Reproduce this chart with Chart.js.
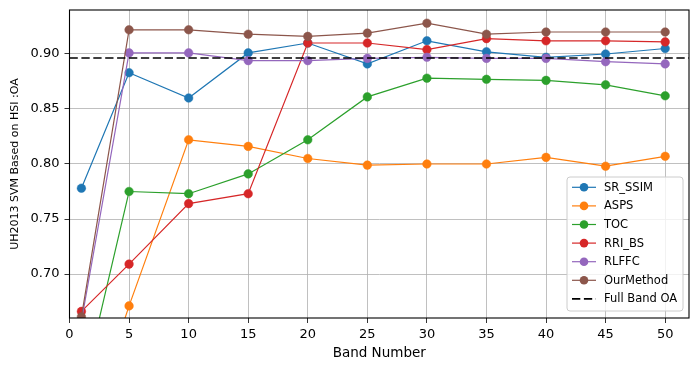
<!DOCTYPE html>
<html>
<head>
<meta charset="utf-8">
<script src="https://cdn.jsdelivr.net/npm/chart.js@4/dist/chart.umd.min.js"></script>
<style>
  html, body { margin: 0; padding: 0; background: #fff; }
  #wrap { width: 699px; height: 371px; position: relative; }
</style>
</head>
<body>
<div id="wrap"><canvas id="c" width="699" height="371"></canvas></div>
<script>
// ---- data ----
const bands = [1, 5, 10, 15, 20, 25, 30, 35, 40, 45, 50];
const seriesNames = ['SR_SSIM', 'ASPS', 'TOC', 'RRI_BS', 'RLFFC', 'OurMethod'];
const SR_SSIM   = [0.778, 0.883, 0.860, 0.901, 0.910, 0.891, 0.912, 0.902, 0.897, 0.900, 0.905];
const ASPS      = [0.540, 0.671, 0.822, 0.816, 0.805, 0.799, 0.800, 0.800, 0.806, 0.798, 0.807];
const TOC       = [0.590, 0.775, 0.773, 0.791, 0.822, 0.861, 0.878, 0.877, 0.876, 0.872, 0.862];
const RRI_BS    = [0.666, 0.709, 0.764, 0.773, 0.910, 0.910, 0.904, 0.914, 0.912, 0.912, 0.911];
const RLFFC     = [0.657, 0.901, 0.901, 0.894, 0.894, 0.896, 0.897, 0.896, 0.896, 0.893, 0.891];
const OurMethod = [0.661, 0.922, 0.922, 0.918, 0.916, 0.919, 0.928, 0.918, 0.920, 0.920, 0.920];
const fullBandOA = 0.8964;
const fullBandLabel = 'Full Band OA';
const xTicks = [0, 5, 10, 15, 20, 25, 30, 35, 40, 45, 50];
const yTicks = [0.70, 0.75, 0.80, 0.85, 0.90];
const xLimits = [0, 52];
const yLimits = [0.66, 0.94];

// ---- styles ----
const colors = ['#1f77b4', '#ff7f0e', '#2ca02c', '#d62728', '#9467bd', '#8c564b'];
const FONT = "'DejaVu Sans', sans-serif";
Chart.defaults.color = '#000';
Chart.defaults.font.family = FONT;

const allSeries = [SR_SSIM, ASPS, TOC, RRI_BS, RLFFC, OurMethod];
const N = allSeries.length + 1;
const datasets = allSeries.map((vals, i) => ({
  label: seriesNames[i],
  data: bands.map((b, j) => ({ x: b, y: vals[j] })),
  borderColor: colors[i],
  backgroundColor: colors[i],
  pointBackgroundColor: colors[i],
  pointBorderColor: colors[i],
  borderWidth: 1.2,
  pointRadius: 4.3,
  pointBorderWidth: 0.5,
  pointHoverRadius: 4.3,
  tension: 0,
  order: N - i,
  clip: 0
}));
datasets.push({
  label: fullBandLabel,
  data: xLimits.map(x => ({ x: x, y: fullBandOA })),
  borderColor: '#000',
  backgroundColor: '#000',
  borderWidth: 1.6,
  borderDash: [8.3, 3.6],
  pointRadius: 0,
  tension: 0,
  order: 0,
  clip: 0
});

const framePlugin = {
  id: 'frame',
  afterDatasetsDraw(chart) {
    const { ctx, chartArea: a } = chart;
    ctx.save();
    ctx.strokeStyle = '#000';
    ctx.lineWidth = 1.1;
    ctx.strokeRect(a.left, a.top, a.right - a.left, a.bottom - a.top);
    ctx.restore();
  }
};

const legendPlugin = {
  id: 'mplLegend',
  afterDraw(chart) {
    const ctx = chart.ctx;
    const a = chart.chartArea;
    const boxW = 116, boxH = 134;
    const right = a.right - 6, bottom = a.bottom - 7;
    const left = right - boxW, top = bottom - boxH;
    ctx.save();
    const r = 3;
    ctx.beginPath();
    ctx.moveTo(left + r, top);
    ctx.lineTo(right - r, top);
    ctx.quadraticCurveTo(right, top, right, top + r);
    ctx.lineTo(right, bottom - r);
    ctx.quadraticCurveTo(right, bottom, right - r, bottom);
    ctx.lineTo(left + r, bottom);
    ctx.quadraticCurveTo(left, bottom, left, bottom - r);
    ctx.lineTo(left, top + r);
    ctx.quadraticCurveTo(left, top, left + r, top);
    ctx.closePath();
    ctx.fillStyle = 'rgba(255,255,255,0.8)';
    ctx.fill();
    ctx.strokeStyle = '#cccccc';
    ctx.lineWidth = 1;
    ctx.stroke();

    ctx.font = '11.5px ' + FONT;
    ctx.textBaseline = 'middle';
    ctx.textAlign = 'left';
    const step = 18.6;
    const y0 = top + 10.3;
    const hx0 = left + 5, hx1 = left + 29, tx = left + 37;
    chart.data.datasets.forEach((ds, i) => {
      const y = y0 + i * step;
      ctx.strokeStyle = ds.borderColor;
      ctx.lineWidth = ds.borderWidth;
      ctx.setLineDash(ds.borderDash || []);
      ctx.beginPath();
      ctx.moveTo(hx0, y);
      ctx.lineTo(hx1, y);
      ctx.stroke();
      ctx.setLineDash([]);
      if (ds.pointRadius > 0) {
        ctx.fillStyle = ds.backgroundColor;
        ctx.beginPath();
        ctx.arc((hx0 + hx1) / 2, y, ds.pointRadius, 0, Math.PI * 2);
        ctx.fill();
      }
      ctx.fillStyle = '#000';
      ctx.fillText(ds.label, tx, y + 0.5);
    });
    ctx.restore();
  }
};

new Chart(document.getElementById('c'), {
  type: 'line',
  data: { datasets },
  options: {
    responsive: false,
    animation: false,
    events: [],
    layout: { padding: { top: 10, right: 10, left: 0, bottom: 0 } },
    plugins: { legend: { display: false }, tooltip: { enabled: false } },
    scales: {
      x: {
        type: 'linear',
        min: xLimits[0],
        max: xLimits[1],
        afterBuildTicks(scale) { scale.ticks = xTicks.map(v => ({ value: v })); },
        afterFit(scale) { scale.height = 53; scale.paddingLeft = 0; scale.paddingRight = 0; },
        ticks: {
          font: { size: 13, family: FONT },
          color: '#000',
          padding: 4,
          maxRotation: 0,
          autoSkip: false,
          callback: v => String(v)
        },
        grid: { color: '#b0b0b0', lineWidth: 0.8, tickColor: '#000', tickLength: 5, drawTicks: true },
        border: { display: false },
        title: {
          display: true,
          text: 'Band Number',
          font: { size: 13.5, family: FONT },
          color: '#000',
          padding: { top: 0, bottom: 9.9 }
        }
      },
      y: {
        type: 'linear',
        min: yLimits[0],
        max: yLimits[1],
        afterBuildTicks(scale) { scale.ticks = yTicks.map(v => ({ value: v })); },
        afterFit(scale) { scale.width = 69.5; scale.paddingTop = 0; scale.paddingBottom = 0; },
        ticks: {
          font: { size: 13, family: FONT },
          color: '#000',
          padding: 5,
          autoSkip: false,
          callback: v => Number(v).toFixed(2)
        },
        grid: { color: '#b0b0b0', lineWidth: 0.8, tickColor: '#000', tickLength: 5, drawTicks: true },
        border: { display: false },
        title: {
          display: true,
          text: 'UH2013 SVM Based on HSI :OA',
          font: { size: 11, family: FONT },
          color: '#000',
          padding: { top: 8.4, bottom: 0 }
        }
      }
    }
  },
  plugins: [framePlugin, legendPlugin]
});
</script>
</body>
</html>
